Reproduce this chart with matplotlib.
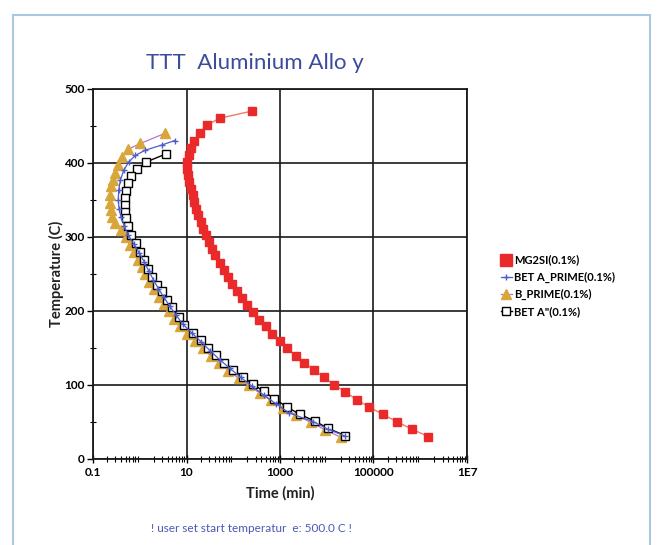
import numpy as np
import matplotlib
matplotlib.use("Agg")
import matplotlib.pyplot as plt
from matplotlib.lines import Line2D
from matplotlib.ticker import LogLocator, FixedLocator, NullFormatter

plt.rcParams['font.family'] = ['Lato', 'DejaVu Sans']

# --- data ---
mg2si_temp = [470, 460, 451, 440, 430, 420, 410, 401, 392, 383, 374, 365, 356, 347,
              338, 329, 320, 311, 302, 293, 284, 275, 265, 255, 246, 236, 227, 217,
              208, 198, 188, 179, 169, 159, 149, 139, 130, 120, 110, 100, 90, 80,
              70, 60, 50, 40, 30]
mg2si_time = [257, 51, 27.5, 19.1, 14.8, 12.6, 11.2, 10.0, 10.2, 10.7, 11.5, 12.3, 13.5,
              14.8, 16.2, 17.8, 20.0, 22.4, 25.7, 30.1, 35.5, 41.7, 51.6, 63.1, 76.6,
              95.5, 122, 156, 200, 268, 353, 492, 684, 977, 1432, 2158, 3236, 5370,
              8710, 14450, 25100, 43650, 79400, 158500, 316000, 661000, 1480000]

a_prime_temp = [430, 424, 417, 410, 401, 390, 377, 363, 350, 338, 326, 314, 302, 290,
                278, 266, 254, 242, 230, 218, 206, 194, 182, 170, 158, 146, 134, 122,
                110, 98, 86, 74, 62, 50, 40, 31]
a_prime_time = [5.6, 3.0, 1.32, 0.81, 0.58, 0.457, 0.386, 0.355, 0.347, 0.36, 0.40, 0.47,
                0.57, 0.75, 0.98, 1.25, 1.55, 1.95, 2.5, 3.3, 4.4, 6.0, 8.3, 13, 20.5,
                32, 51, 85, 145, 250, 450, 830, 1550, 5200, 10500, 24000]

b_prime_temp = [440, 426, 418, 408, 397, 386, 377, 368, 357, 346, 336, 327, 318, 309,
                299, 289, 279, 269, 259, 249, 239, 229, 219, 209, 199, 189, 179, 169,
                159, 149, 139, 129, 119, 109, 99, 89, 79, 69, 59, 49, 39, 29]
b_prime_time = [3.55, 1.03, 0.553, 0.42, 0.347, 0.292, 0.264, 0.248, 0.236, 0.236, 0.245,
                0.257, 0.30, 0.40, 0.50, 0.62, 0.76, 0.91, 1.09, 1.30, 1.58, 2.0,
                2.6, 3.3, 4.3, 5.4, 7.2, 10.5, 15.5, 22.5, 33, 50, 78, 130,
                215, 365, 630, 1150, 2200, 4600, 9300, 20000]

a2_temp = [412, 401, 391, 382, 372, 362, 352, 343, 334, 325, 314, 302, 291, 280, 269,
           257, 246, 235, 226, 215, 205, 192, 181, 170, 160, 150, 140, 130, 120, 111,
           101, 91, 81, 70, 60, 51, 41, 31]
a2_time = [3.67, 1.37, 0.88, 0.66, 0.553, 0.513, 0.479, 0.479, 0.494, 0.513, 0.553, 0.655,
           0.813, 1.0, 1.22, 1.51, 1.84, 2.34, 3.02, 3.86, 4.90, 6.84, 8.9, 13.5, 20.0,
           28.8, 42.7, 64.6, 100, 158, 263, 447, 759, 1413, 2630, 5500, 10700, 25100]

x_ticks = [0.1, 10, 1000, 100000, 1e7]
x_labels = ["0.1", "10", "1000", "100000", "1E7"]
y_ticks = [0, 100, 200, 300, 400, 500]

fig = plt.figure(figsize=(6.61, 5.45), dpi=100)
ax = fig.add_axes([0.1407, 0.1583, 0.5658, 0.6789])

l1, = ax.plot(mg2si_time, mg2si_temp, color='#f07a68', lw=1.0, marker='s', ms=6,
              mfc='#ea2a2a', mec='#ea2a2a', zorder=3, label='MG2SI(0.1%)')
l3, = ax.plot(b_prime_time, b_prime_temp, color='#b277c8', lw=0.9, marker='^', ms=7,
              mfc='#d9a63c', mec='#d9a63c', zorder=3, label='B_PRIME(0.1%)')
l4, = ax.plot(a2_time, a2_temp, color='black', lw=1.0, marker='s', ms=6,
              mfc='white', mec='black', mew=1.0, zorder=4, label='BET A"(0.1%)')
l2, = ax.plot(a_prime_time, a_prime_temp, color='#4f5cc8', lw=0.9, marker='+', ms=5,
              mec='#4f5cc8', zorder=5, label='BET A_PRIME(0.1%)')

ax.set_xscale('log')
ax.set_xlim(0.1, 1e7)
ax.set_ylim(0, 500)

ax.xaxis.set_major_locator(FixedLocator(x_ticks))
ax.set_xticklabels(x_labels)
ax.xaxis.set_minor_locator(LogLocator(base=10, subs=np.arange(2, 10), numticks=20))
ax.xaxis.set_minor_formatter(NullFormatter())
ax.set_yticks(y_ticks)
ax.yaxis.set_minor_locator(FixedLocator([50, 150, 250, 350, 450]))

ax.grid(True, which='major', color='#1a1a1a', lw=1.2)
for s in ax.spines.values():
    s.set_color('#1a1a1a')
    s.set_linewidth(1.3)

ax.tick_params(axis='x', which='major', direction='inout', length=6, width=1,
               labelsize=8.5, pad=3)
ax.tick_params(axis='x', which='minor', direction='inout', length=5, width=0.8)
ax.tick_params(axis='y', which='major', direction='out', length=4, width=1,
               labelsize=8.5, pad=2)
ax.tick_params(axis='y', which='minor', direction='inout', length=5, width=0.8)
for lab in ax.get_xticklabels() + ax.get_yticklabels():
    lab.set_fontweight('bold')

ax.text(0.5, -0.093, 'Time (min)', transform=ax.transAxes, ha='center', va='center',
        fontsize=10.5, fontweight='bold', color='#222222')
ax.text(-0.097, 0.5, 'Temperature (C)', transform=ax.transAxes, ha='center',
        va='center', rotation=90, fontsize=10.5, fontweight='bold', color='#222222')

fig.text(255 / 661, 1 - 63 / 545, 'TTT  Aluminium Allo y', ha='center', va='center',
         fontsize=16, color='#3c4b9e')
fig.text(251 / 661, 1 - 528 / 545, '! user set start temperatur  e: 500.0 C !',
         ha='center', va='center', fontsize=8.5, color='#4a58b8')

# legend: the red entry shows a plain big square
red_handle = Line2D([], [], ls='none', marker='s', ms=9, mfc='#ea2a2a', mec='#ea2a2a')
fig.legend(handles=[red_handle, l2, l3, l4],
           labels=[l1.get_label(), l2.get_label(), l3.get_label(), l4.get_label()],
           loc='upper left', bbox_to_anchor=(495 / 661, 1 - 249 / 545), frameon=False,
           handlelength=1.0, handletextpad=0.25, labelspacing=0.55, borderpad=0,
           prop={'weight': 'bold', 'size': 8})

# light blue frame around the panel
fc = '#a9c9e3'
fig.add_artist(Line2D([12.7 / 661, 12.7 / 661], [0, 1 - 15 / 545], color=fc, lw=1.5))
fig.add_artist(Line2D([12.7 / 661, 650 / 661], [1 - 15 / 545, 1 - 15 / 545], color=fc, lw=1.5))
fig.add_artist(Line2D([650 / 661, 650 / 661], [0, 1 - 15 / 545], color=fc, lw=1.5))

fig.savefig('out.png', dpi=100)
